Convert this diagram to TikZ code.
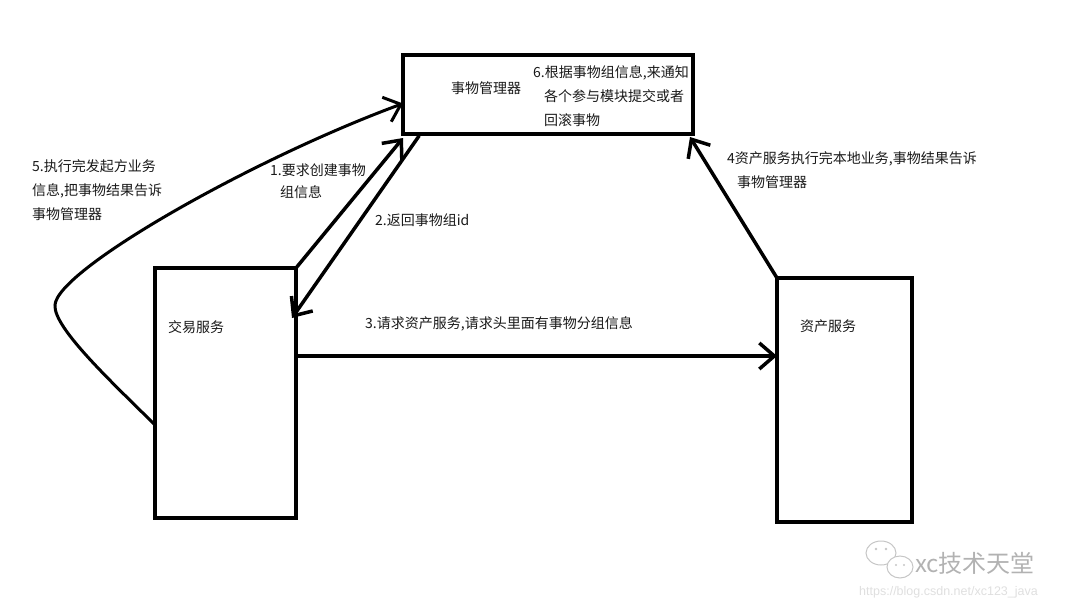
\documentclass[tikz,border=0pt]{standalone}
\usepackage{fontspec}
\setmainfont{Noto Sans CJK SC}
\newfontfamily\urlfont{Liberation Sans}
\usetikzlibrary{calc,arrows.meta}

\begin{document}
\begin{tikzpicture}[x = 1pt, y = -1pt, font = \fontsize{14}{24}\selectfont,
  box/.style = {draw, line width = 4pt, inner sep = 0pt, outer sep = 0pt},
  lbl/.style = {inner sep = 0pt, text = black!90, align = left},
  flow/.style = {draw, line width = 3.5pt, line cap = round, -{Straight Barb[length = 15pt, width = 26pt]}}]
\useasboundingbox (0,0) rectangle (1080,608);
% boxes
\node[box, minimum width = 290pt, minimum height = 79pt](tm)at(548,94.5){};
\node[box, minimum width = 141pt, minimum height = 250pt](tx)at(225.5,393){};
\node[box, minimum width = 135pt, minimum height = 244pt](rs)at(844.5,400){};
% box names
\node[lbl, anchor = base west](tmname)at(451,93){事物管理器};
\node[lbl, anchor = base west](txname)at(168,332){交易服务};
\node[lbl, anchor = base west](rsname)at(800,331){资产服务};
% end points
\coordinate(t1)at($(tm.south west)+(0,4)$);
\coordinate(s2)at($(tm.south west)+(16,2)$);
\coordinate(t2)at($(tx.north east)+(-4,50)$);
\coordinate(p3)at($(tx.east)+(0,-37)$);
\coordinate(t4)at($(tm.south east)+(-3,3)$);
\coordinate(s5)at($(tx.west)+(0,32)$);
\coordinate(t5)at($(tm.west)+(0,9)$);
% arrows
\path[flow](tx.north east)to(t1);
\path[flow](s2)to(t2);
\path[flow](p3)to(p3 -| rs.west);
\path[flow](rs.north west)to(t4);
\path[flow, line width = 3pt](s5) .. controls (115,385) and (53,328) .. (55,305)
  .. controls (57,270) and (250,160) .. (t5);
% labels
\node[lbl, anchor = north west](lab6)at(533,65){6.根据事物组信息,来通知\\\hspace*{11pt}各个参与模块提交或者\\\hspace*{11pt}回滚事物};
\node[lbl, anchor = north west](lab5)at(32,159){5.执行完发起方业务\\信息,把事物结果告诉\\事物管理器};
\node[lbl, anchor = north west, font = \fontsize{14}{22}\selectfont](lab1)at(270,164){1.要求创建事物\\\hspace*{10pt}组信息};
\node[lbl, anchor = base west](lab2)at(375,225){2.返回事物组id};
\node[lbl, anchor = base west](lab3)at(365,328){3.请求资产服务,请求头里面有事物分组信息};
\node[lbl, anchor = north west](lab4)at(727,151){4资产服务执行完本地业务,事物结果告诉\\\hspace*{10pt}事物管理器};
% watermark
\begin{scope}[gray!45, line width = 1pt]
\path[draw, fill = white](881,553) ellipse (15 and 12);
\path[draw, fill = white](900,567) ellipse (13 and 11);
\path[fill](876,549) circle (1.3) (886,549) circle (1.3) (896,565) circle (1.2) (904,565) circle (1.2);
\end{scope}
\node[lbl, anchor = base west, text = gray!60, font = \fontsize{24}{26}\selectfont](wmname)at(915,572){xc技术天堂};
\node[lbl, anchor = base west, text = gray!25, font = \urlfont\fontsize{12.5}{14}\selectfont](wmurl)at(859,595){https://blog.csdn.net/xc123\_java};
\end{tikzpicture}
\end{document}
